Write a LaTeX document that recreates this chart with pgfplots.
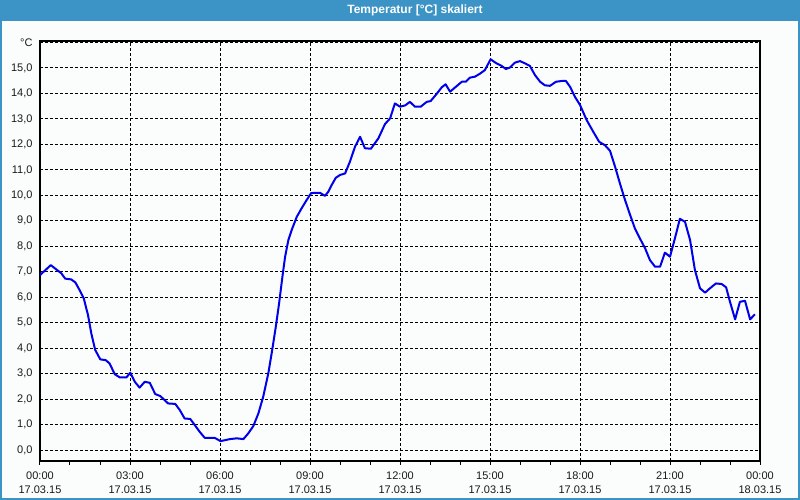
\documentclass[border=0pt]{standalone}
\usepackage{fontspec}
\setmainfont{Liberation Sans}
\usepackage{pgfplots}
\pgfplotsset{compat=1.18}
\definecolor{frameblue}{RGB}{59,148,197}
\definecolor{bgcol}{RGB}{251,253,252}
\definecolor{curve}{RGB}{0,0,235}
\begin{document}
\begin{tikzpicture}[x=1pt,y=1pt]
\useasboundingbox (0,0) rectangle (800,500);
\fill[bgcol] (0,0) rectangle (800,500);
\fill[frameblue] (0,479) rectangle (800,500);
\draw[frameblue,line width=2pt] (1,1) rectangle (799,499);
\node[text=white,font=\fontsize{12}{14}\selectfont\bfseries] at (415,490) {Temperatur [°C] skaliert};
\begin{axis}[
  at={(40pt,39pt)}, anchor=south west,
  scale only axis, width=720pt, height=420pt,
  xmin=0, xmax=24, ymin=-0.43, ymax=16.06,
  axis line style={black,line width=1.2pt},
  xtick={0,3,...,24},
  minor xtick={1,2,4,5,7,8,10,11,13,14,16,17,19,20,22,23},
  xticklabels={{00:00\\17.03.15},{03:00\\17.03.15},{06:00\\17.03.15},{09:00\\17.03.15},{12:00\\17.03.15},{15:00\\17.03.15},{18:00\\17.03.15},{21:00\\17.03.15},{00:00\\18.03.15}},
  ytick={0,1,...,16},
  yticklabels={{0,0},{1,0},{2,0},{3,0},{4,0},{5,0},{6,0},{7,0},{8,0},{9,0},{10,0},{11,0},{12,0},{13,0},{14,0},{15,0},°C},
  xtick pos=bottom, ytick pos=left,
  tick align=outside,
  major tick length=4pt, minor tick length=4pt,
  xtick style={black,line width=1pt},
  ytick style={draw=none},
  xmajorgrids, ymajorgrids,
  major grid style={black,line width=1pt,dash pattern=on 3pt off 2pt},
  tick label style={font=\fontsize{11}{14}\selectfont, text=black!90},
  xticklabel style={align=center, yshift=-3pt},
  yticklabel style={xshift=0pt},
]
\addplot[curve, line width=2pt, line join=round] coordinates {
(0,6.87) (0.36,7.26) (0.6,7.04) (0.71,6.94) (0.84,6.73) (1.04,6.70) (1.18,6.58) (1.32,6.28) (1.46,5.95) (1.6,5.30)
(1.71,4.58) (1.84,3.93) (2.01,3.56) (2.19,3.53) (2.32,3.40) (2.49,2.98) (2.66,2.85) (2.88,2.85) (3.01,3.04) (3.16,2.68)
(3.32,2.45) (3.49,2.68) (3.66,2.64) (3.84,2.20) (4.01,2.12) (4.27,1.83) (4.51,1.81) (4.66,1.57) (4.82,1.24) (5.01,1.22)
(5.16,0.98) (5.32,0.72) (5.49,0.48) (5.82,0.48) (6.02,0.35) (6.33,0.43) (6.56,0.46) (6.78,0.43) (6.94,0.65) (7.11,0.94)
(7.28,1.44) (7.44,2.09) (7.61,3.01) (7.74,3.93) (7.86,4.84) (7.97,5.76) (8.08,6.80) (8.17,7.59) (8.28,8.25) (8.39,8.64)
(8.56,9.16) (8.72,9.49) (8.89,9.82) (9.04,10.09) (9.33,10.10) (9.5,9.98) (9.61,10.14) (9.72,10.40) (9.86,10.69) (10.0,10.80)
(10.17,10.86) (10.33,11.32) (10.5,11.91) (10.67,12.30) (10.83,11.85) (11.03,11.83) (11.28,12.24) (11.5,12.80) (11.67,13.02) (11.83,13.61)
(12.0,13.48) (12.17,13.53) (12.33,13.67) (12.5,13.48) (12.69,13.48) (12.89,13.67) (13.02,13.70) (13.22,13.98) (13.39,14.24) (13.52,14.36)
(13.67,14.07) (13.89,14.29) (14.06,14.46) (14.19,14.46) (14.33,14.62) (14.5,14.66) (14.67,14.78) (14.83,14.92) (15.02,15.34) (15.22,15.18)
(15.39,15.08) (15.53,14.96) (15.67,15.02) (15.83,15.21) (16.0,15.27) (16.17,15.18) (16.33,15.08) (16.5,14.72) (16.67,14.46) (16.83,14.32)
(17.0,14.30) (17.2,14.46) (17.39,14.49) (17.53,14.49) (17.67,14.26) (17.83,13.87) (18.0,13.55) (18.22,12.96) (18.44,12.50) (18.64,12.10)
(18.83,11.97) (19.0,11.75) (19.17,11.12) (19.33,10.47) (19.5,9.82) (19.67,9.23) (19.83,8.70) (20.0,8.30) (20.17,7.92) (20.33,7.46)
(20.5,7.20) (20.67,7.20) (20.83,7.75) (21.0,7.59) (21.17,8.34) (21.33,9.08) (21.5,8.96) (21.67,8.24) (21.83,7.07) (22.0,6.35)
(22.17,6.18) (22.33,6.35) (22.53,6.54) (22.72,6.52) (22.87,6.39) (23.0,5.82) (23.17,5.13) (23.33,5.82) (23.5,5.86) (23.67,5.13)
(23.83,5.33)
};
\end{axis}
\end{tikzpicture}
\end{document}
